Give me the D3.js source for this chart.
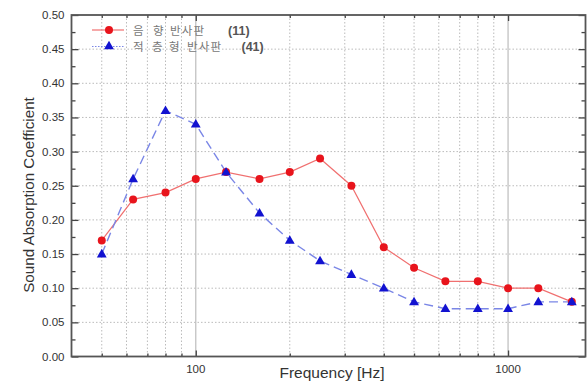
<!DOCTYPE html>
<html><head><meta charset="utf-8">
<script src="https://cdn.jsdelivr.net/npm/d3@7"></script>
<style>body{margin:0;background:#fff}svg{display:block}</style>
</head><body>
<script>
const freqs = [50, 63, 80, 100, 125, 160, 200, 250, 315, 400, 500, 630, 800, 1000, 1250, 1600];
const seriesWords = [["음", "향", "반사판"], ["적", "층", "형", "반사판"]];
const seriesCounts = ["(11)", "(41)"];
const reflector = [0.17, 0.23, 0.24, 0.26, 0.27, 0.26, 0.27, 0.29, 0.25, 0.16, 0.13, 0.11, 0.11, 0.10, 0.10, 0.08];
const laminated = [0.15, 0.26, 0.36, 0.34, 0.27, 0.21, 0.17, 0.14, 0.12, 0.10, 0.08, 0.07, 0.07, 0.07, 0.08, 0.08];
const yTicks = [0, 0.05, 0.1, 0.15, 0.2, 0.25, 0.3, 0.35, 0.4, 0.45, 0.5];
const xTickLabels = [100, 1000];
const xMinor = [50, 60, 70, 80, 90, 200, 300, 400, 500, 600, 700, 800, 900];

const W = 587, H = 382;
const L = 71.5, R = 585.5, T = 15, B = 356.5;
const svg = d3.select("body").append("svg").attr("width", W).attr("height", H)
  .style("font-family", "Arial, 'Liberation Sans', sans-serif");

const x = d3.scaleLog().domain([40, 1770]).range([L, R]);
const y = d3.scaleLinear().domain([0, 0.5]).range([B, T]);

// grid
const g = svg.append("g");
g.selectAll(".hg").data(yTicks.slice(1, -1)).join("line")
  .attr("x1", L).attr("x2", R).attr("y1", d => y(d)).attr("y2", d => y(d))
  .attr("stroke", "#bbb").attr("stroke-width", 1).attr("stroke-dasharray", "1.5,2");
g.selectAll(".vg").data(xMinor).join("line")
  .attr("x1", d => x(d)).attr("x2", d => x(d)).attr("y1", T).attr("y2", B)
  .attr("stroke", "#bbb").attr("stroke-width", 1).attr("stroke-dasharray", "1.5,2");
g.selectAll(".vm").data(xTickLabels).join("line")
  .attr("x1", d => x(d)).attr("x2", d => x(d)).attr("y1", T).attr("y2", B)
  .attr("stroke", "#bdbdbd").attr("stroke-width", 1.2);

// axes (ticks inward)
const yMinorTicks = d3.range(0.025, 0.5, 0.05);
const axL = d3.axisRight(y).tickValues(yTicks).tickSize(7).tickFormat("");
const axLm = d3.axisRight(y).tickValues(yMinorTicks).tickSize(4).tickFormat("");
const axR = d3.axisLeft(y).tickValues(yTicks).tickSize(7).tickFormat("");
const axRm = d3.axisLeft(y).tickValues(yMinorTicks).tickSize(4).tickFormat("");
const axB = d3.axisTop(x).tickValues(xTickLabels).tickSize(6).tickFormat("");
const axBm = d3.axisTop(x).tickValues(xMinor).tickSize(3).tickFormat("");
const axT = d3.axisBottom(x).tickValues(xTickLabels).tickSize(6).tickFormat("");
const axTm = d3.axisBottom(x).tickValues(xMinor).tickSize(3).tickFormat("");
function style(sel){ sel.selectAll("path").remove(); sel.selectAll("line").attr("stroke","#444").attr("stroke-width",1.3); }
svg.append("g").attr("transform",`translate(${L},0)`).call(axL).call(style);
svg.append("g").attr("transform",`translate(${L},0)`).call(axLm).call(style);
svg.append("g").attr("transform",`translate(${R},0)`).call(axR).call(style);
svg.append("g").attr("transform",`translate(${R},0)`).call(axRm).call(style);
svg.append("g").attr("transform",`translate(0,${B})`).call(axB).call(style);
svg.append("g").attr("transform",`translate(0,${B})`).call(axBm).call(style);
svg.append("g").attr("transform",`translate(0,${T})`).call(axT).call(style);
svg.append("g").attr("transform",`translate(0,${T})`).call(axTm).call(style);
svg.append("rect").attr("x",L).attr("y",T).attr("width",R-L).attr("height",B-T)
  .attr("fill","none").attr("stroke","#555").attr("stroke-width",1.8);

// tick labels
svg.append("g").selectAll("text").data(yTicks).join("text")
  .attr("x", L - 7).attr("y", d => y(d) + 4).attr("text-anchor","end")
  .attr("font-size", 11.5).attr("fill", "#333").text(d => d3.format(".2f")(d));
svg.append("g").selectAll("text").data(xTickLabels).join("text")
  .attr("x", d => x(d)).attr("y", B + 16).attr("text-anchor","middle")
  .attr("font-size", 11.5).attr("fill", "#333").text(d => d);

// titles
svg.append("text").attr("x", 332).attr("y", 378).attr("text-anchor","middle")
  .attr("font-size", 15.5).attr("fill","#333").text("Frequency [Hz]");
svg.append("text").attr("transform","translate(34,195) rotate(-90)").attr("text-anchor","middle")
  .attr("font-size", 15.2).attr("fill","#333").text("Sound Absorption Coefficient");

// series
const line = d3.line().x((d,i) => x(freqs[i])).y(d => y(d));
svg.append("path").datum(reflector).attr("d", line).attr("fill","none")
  .attr("stroke","#f07070").attr("stroke-width",1.2);
svg.append("path").datum(laminated).attr("d", line).attr("fill","none")
  .attr("stroke","#7a86e6").attr("stroke-width",1.4).attr("stroke-dasharray","9,5");
svg.append("g").selectAll("circle").data(reflector).join("circle")
  .attr("cx",(d,i)=>x(freqs[i])).attr("cy",d=>y(d)).attr("r",4).attr("fill","#e8141c");
const tri = d3.symbol().type(d3.symbolTriangle).size(42);
svg.append("g").selectAll("path").data(laminated).join("path")
  .attr("d", tri).attr("transform",(d,i)=>`translate(${x(freqs[i])},${y(d)+0.5})`).attr("fill","#1212d0");

// legend
const lg = svg.append("g");
lg.append("line").attr("x1",92).attr("x2",124).attr("y1",30).attr("y2",30).attr("stroke","#f07070").attr("stroke-width",1.2);
lg.append("circle").attr("cx",109).attr("cy",30).attr("r",4).attr("fill","#e8141c");
lg.append("line").attr("x1",92).attr("x2",124).attr("y1",46.5).attr("y2",46.5).attr("stroke","#7a86e6").attr("stroke-width",1.2).attr("stroke-dasharray","1.5,1.5");
lg.append("path").attr("d",tri).attr("transform","translate(109,46.5)").attr("fill","#1212d0");
const wordX = [[133, 153, 170], [133, 152, 169, 187]];
const countX = [228, 241.5];
const rowY = [34.5, 51];
seriesWords.forEach((words, r) => {
  const t = lg.append("text").attr("y", rowY[r]).attr("font-size", 11.5).attr("fill", "#777")
    .attr("font-family", "'Noto Sans CJK KR', sans-serif");
  words.forEach((w, k) => t.append("tspan").attr("x", wordX[r][k]).attr("letter-spacing", 1.2).text(w));
  t.append("tspan").attr("x", countX[r]).attr("font-family", "Arial, 'Liberation Sans', sans-serif")
    .attr("font-weight", "bold").attr("font-size", 12.5).attr("fill", "#555").text(seriesCounts[r]);
});
</script>
</body></html>
